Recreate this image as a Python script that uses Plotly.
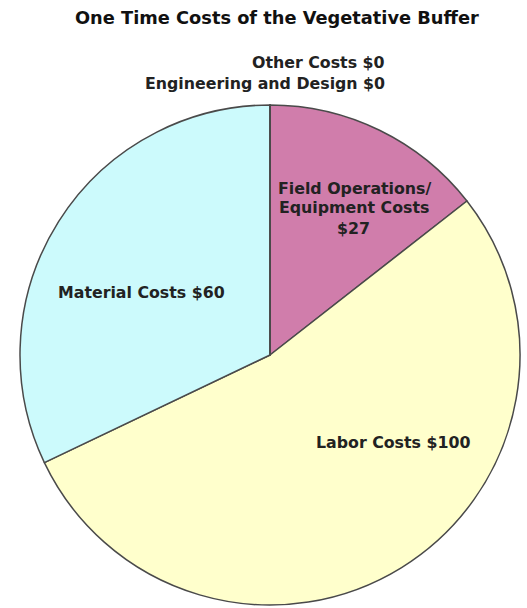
import plotly.graph_objects as go

# One-time cost breakdown (dollars)
categories = ["Field Operations/ Equipment Costs", "Labor Costs", "Material Costs",
              "Other Costs", "Engineering and Design"]
costs = [27, 100, 60, 0, 0]
slice_colors = ["#D07DAB", "#FFFFCC", "#CCFAFC", "#DDDDDD", "#EEEEEE"]

W, H = 527, 608
FONT = "DejaVu Sans"


def px(x, y):
    """Convert pixel position to paper coordinates."""
    return x / W, 1 - y / H


fig = go.Figure(go.Pie(
    labels=categories,
    values=costs,
    sort=False,
    direction="clockwise",
    rotation=0,
    marker=dict(colors=slice_colors, line=dict(color="#4a4a4a", width=1.5)),
    textinfo="none",
    hoverinfo="label+value",
    showlegend=False,
    domain=dict(x=[20 / W, 520 / W], y=[3 / H, 503 / H]),
))

label_font = dict(family=FONT, size=15.8, color="#222222")


def add_label(text, x, y, xanchor="center"):
    ax, ay = px(x, y)
    fig.add_annotation(text=f"<b>{text}</b>", x=ax, y=ay, xref="paper", yref="paper",
                       xanchor=xanchor, yanchor="middle", showarrow=False,
                       font=label_font, align="center")


def money(v):
    return f"${v}"


add_label(f"{categories[3]} {money(costs[3])}", 387, 62, "right")
add_label(f"{categories[4]} {money(costs[4])}", 387, 83, "right")
add_label("Field Operations/", 355, 188)
add_label("Equipment Costs", 354, 208)
add_label(money(costs[0]), 353, 228)
add_label(f"{categories[2]} {money(costs[2])}", 141.5, 292)
add_label(f"{categories[1]} {money(costs[1])}", 393, 442)

tx, ty = px(277, 18)
fig.add_annotation(text="<b>One Time Costs of the Vegetative Buffer</b>", x=tx, y=ty,
                   xref="paper", yref="paper", xanchor="center", yanchor="middle",
                   showarrow=False, font=dict(family=FONT, size=17.8, color="#111111"))

fig.update_layout(
    width=W, height=H,
    margin=dict(l=0, r=0, t=0, b=0),
    paper_bgcolor="white",
    plot_bgcolor="white",
)

fig.write_html("out.html")
